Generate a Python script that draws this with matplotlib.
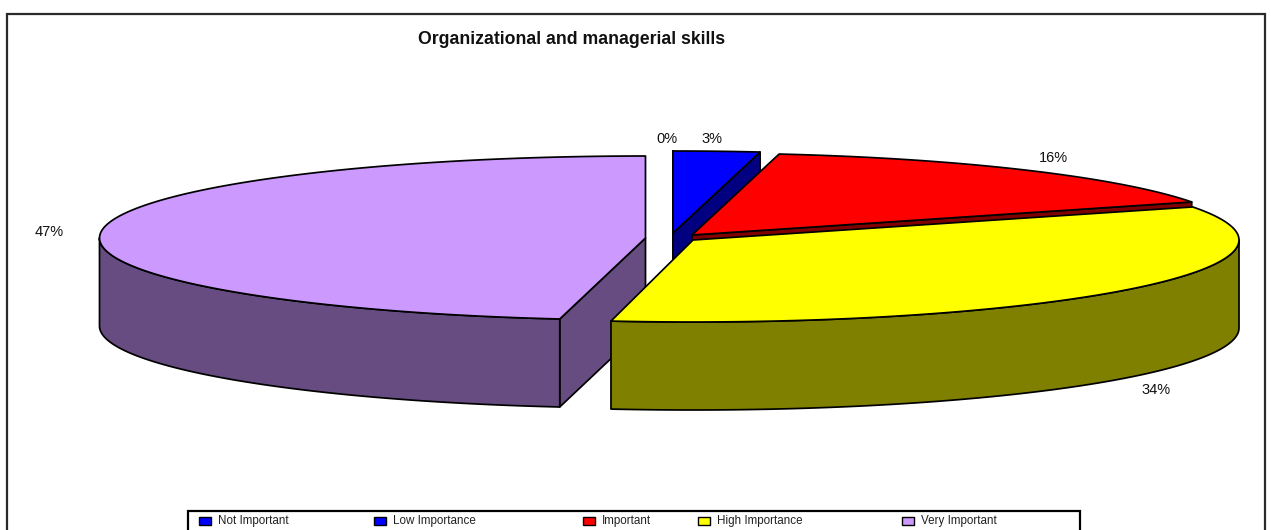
import numpy as np
import matplotlib
matplotlib.use("Agg")
import matplotlib.pyplot as plt
from matplotlib.patches import Polygon, Rectangle

plt.rcParams['font.family'] = ['Liberation Sans', 'DejaVu Sans']

title = "Organizational and managerial skills"
categories = ["Not Important", "Low Importance", "Important", "High Importance", "Very Important"]
values = [0.0, 2.55, 15.85, 34.0, 47.49]
top_colors = ["#0000FF", "#0000FF", "#FF0000", "#FFFF00", "#CC99FF"]
side_colors = ["#000080", "#000080", "#800000", "#808000", "#664C80"]

# layout only
centers = [(672.5, 233), (673, 233), (692, 235), (693, 240), (645.5, 238)]
label_pos = [(667, 139), (712, 139), (1053, 158), (1156, 390), (49, 232)]
legend_swatch_x = [199, 374, 583, 698, 902]
draw_order = [0, 1, 2, 4, 3]
RX, RY, DEPTH = 546, 82, 88

fig = plt.figure(figsize=(12.71, 5.30), dpi=100)
ax = fig.add_axes([0, 0, 1, 1])
ax.set_xlim(0, 1271)
ax.set_ylim(530, 0)
ax.axis("off")

# outer frame
ax.add_patch(Rectangle((6.5, 14), 1258, 540, fc="white", ec="#2a2a2a", lw=1.6, zorder=0))


def arc(c, t0, t1, dy=0):
    t = np.radians(np.linspace(t0, t1, 160))
    return np.column_stack([c[0] + RX * np.sin(t), c[1] + dy - RY * np.cos(t)])


# wedge angles, clockwise from 12 o'clock; the last slice closes at 360
ends = np.cumsum(values) * 3.6
starts = ends - np.array(values) * 3.6
starts[-1], ends[-1] = 360 - values[-1] * 3.6, 360

z = 2
style = dict(ec="black", lw=1.25, joinstyle="round")
for i in draw_order:
    c, t0, t1 = centers[i], starts[i], ends[i]
    # radial face at the clockwise end of the slice
    if 0 <= t0 <= 180 and i != 3 or i == 4:
        t_face = t0 if i == 4 else t1
        p = arc(c, t_face, t_face)[0]
        face = [c, p, (p[0], p[1] + DEPTH), (c[0], c[1] + DEPTH)]
        ax.add_patch(Polygon(face, fc=side_colors[i], zorder=z, **style))
        z += 1
    # outer rim
    lo, hi = max(t0, 90), min(t1, 270)
    if hi > lo:
        rim = np.vstack([arc(c, lo, hi), arc(c, hi, lo, DEPTH)])
        ax.add_patch(Polygon(rim, fc=side_colors[i], zorder=z, **style))
        z += 1
    # top
    top = np.vstack([[c], arc(c, t0, t1)])
    ax.add_patch(Polygon(top, fc=top_colors[i], zorder=z, **style))
    z += 1

for v, (x, y) in zip(values, label_pos):
    ax.text(x, y, f"{v:.0f}%", ha="center", va="center", fontsize=10.5, color="#111111", zorder=50)

ax.text(572, 40, title, ha="center", va="center", fontsize=12.7, fontweight="bold", color="#111111", zorder=50)

# legend
ax.add_patch(Rectangle((188, 511), 892, 40, fc="white", ec="black", lw=1.6, zorder=60))
for name, col, x in zip(categories, top_colors, legend_swatch_x):
    ax.add_patch(Rectangle((x, 517), 12, 8, fc=col, ec="black", lw=1.0, zorder=61))
    ax.text(x + 19, 521, name, ha="left", va="center", fontsize=8.4, color="#222222", zorder=61)

fig.savefig("out.png", dpi=100, facecolor="white")
